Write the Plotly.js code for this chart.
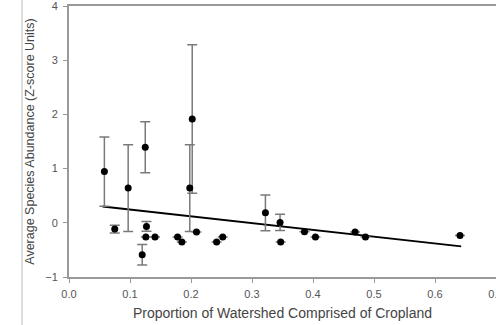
<!DOCTYPE html>
<html>
<head>
<meta charset="utf-8">
<script src="https://cdn.plot.ly/plotly-3.0.1.min.js"></script>
<style>html,body{margin:0;padding:0;background:#fff;}#chart{width:496px;height:325px;}</style>
</head>
<body>
<div id="chart"></div>
<script>
// Proportion of watershed comprised of cropland
var cropland = [0.058, 0.075, 0.097, 0.125, 0.120, 0.127, 0.126, 0.141, 0.178, 0.185, 0.202, 0.198, 0.209, 0.242, 0.252, 0.322, 0.346, 0.347, 0.386, 0.404, 0.469, 0.486, 0.641];
// Average species abundance (z-score units)
var abundance = [0.945, -0.116, 0.64, 1.394, -0.59, -0.068, -0.264, -0.264, -0.26, -0.355, 1.915, 0.64, -0.17, -0.355, -0.264, 0.184, 0.006, -0.355, -0.166, -0.264, -0.17, -0.264, -0.233];
// Error bar half-lengths (null = no error bar drawn)
var errors = [0.64, 0.07, 0.8, 0.47, 0.19, 0.09, null, null, null, null, 1.37, 0.8, null, null, null, 0.33, 0.15, null, null, null, null, null, null];
// Regression line endpoints
var fitX = [0.055, 0.643];
var fitY = [0.30, -0.435];

var xTicks = [0, 0.1, 0.2, 0.3, 0.4, 0.5, 0.6, 0.7];
var xTickText = ['0.0', '0.1', '0.2', '0.3', '0.4', '0.5', '0.6', '0.7'];
var yTicks = [-1, 0, 1, 2, 3, 4];

var traces = [
  {
    x: fitX, y: fitY, type: 'scatter', mode: 'lines',
    line: {color: '#000', width: 2}, hoverinfo: 'skip'
  },
  {
    x: cropland, y: abundance, type: 'scatter', mode: 'markers',
    marker: {color: '#000', size: 7},
    error_y: {type: 'data', array: errors, visible: true, color: '#7a7a7a', thickness: 1.5, width: 5}
  }
];

var fam = 'Liberation Sans, Arial, sans-serif';
var axisFont = {family: fam, size: 11, color: '#555'};
var layout = {
  width: 496, height: 325,
  margin: {l: 69, r: 0, t: 6, b: 48},
  showlegend: false,
  paper_bgcolor: '#fff', plot_bgcolor: '#fff',
  xaxis: {
    range: [0, 0.7], tickvals: xTicks, ticktext: xTickText,
    showgrid: false, zeroline: false,
    showline: true, linecolor: '#999', linewidth: 2, mirror: true,
    ticks: 'outside', ticklen: 4, tickcolor: '#999', tickwidth: 1,
    tickfont: axisFont, ticklabelstandoff: 2, ticklabeloverflow: 'allow',
    title: {text: 'Proportion of Watershed Comprised of Cropland', font: {family: fam, size: 14, color: '#444'}, standoff: 9}
  },
  yaxis: {
    range: [-1, 4], tickvals: yTicks,
    showgrid: false, zeroline: false,
    showline: true, linecolor: '#999', linewidth: 2,
    ticks: 'outside', ticklen: 4, tickcolor: '#999', tickwidth: 1,
    tickfont: axisFont, ticklabelstandoff: 3, ticklabeloverflow: 'allow',
    title: {text: 'Average Species Abundance (Z-score Units)', font: {family: fam, size: 12.5, color: '#444'}, standoff: 8}
  },
  shapes: [
    {type: 'line', xref: 'paper', yref: 'paper', x0: -0.110, x1: -0.110, y0: -0.2, y1: 1.03, line: {color: '#bbbbbb', width: 1}}
  ]
};

Plotly.newPlot('chart', traces, layout, {displayModeBar: false, staticPlot: true});
</script>
</body>
</html>
